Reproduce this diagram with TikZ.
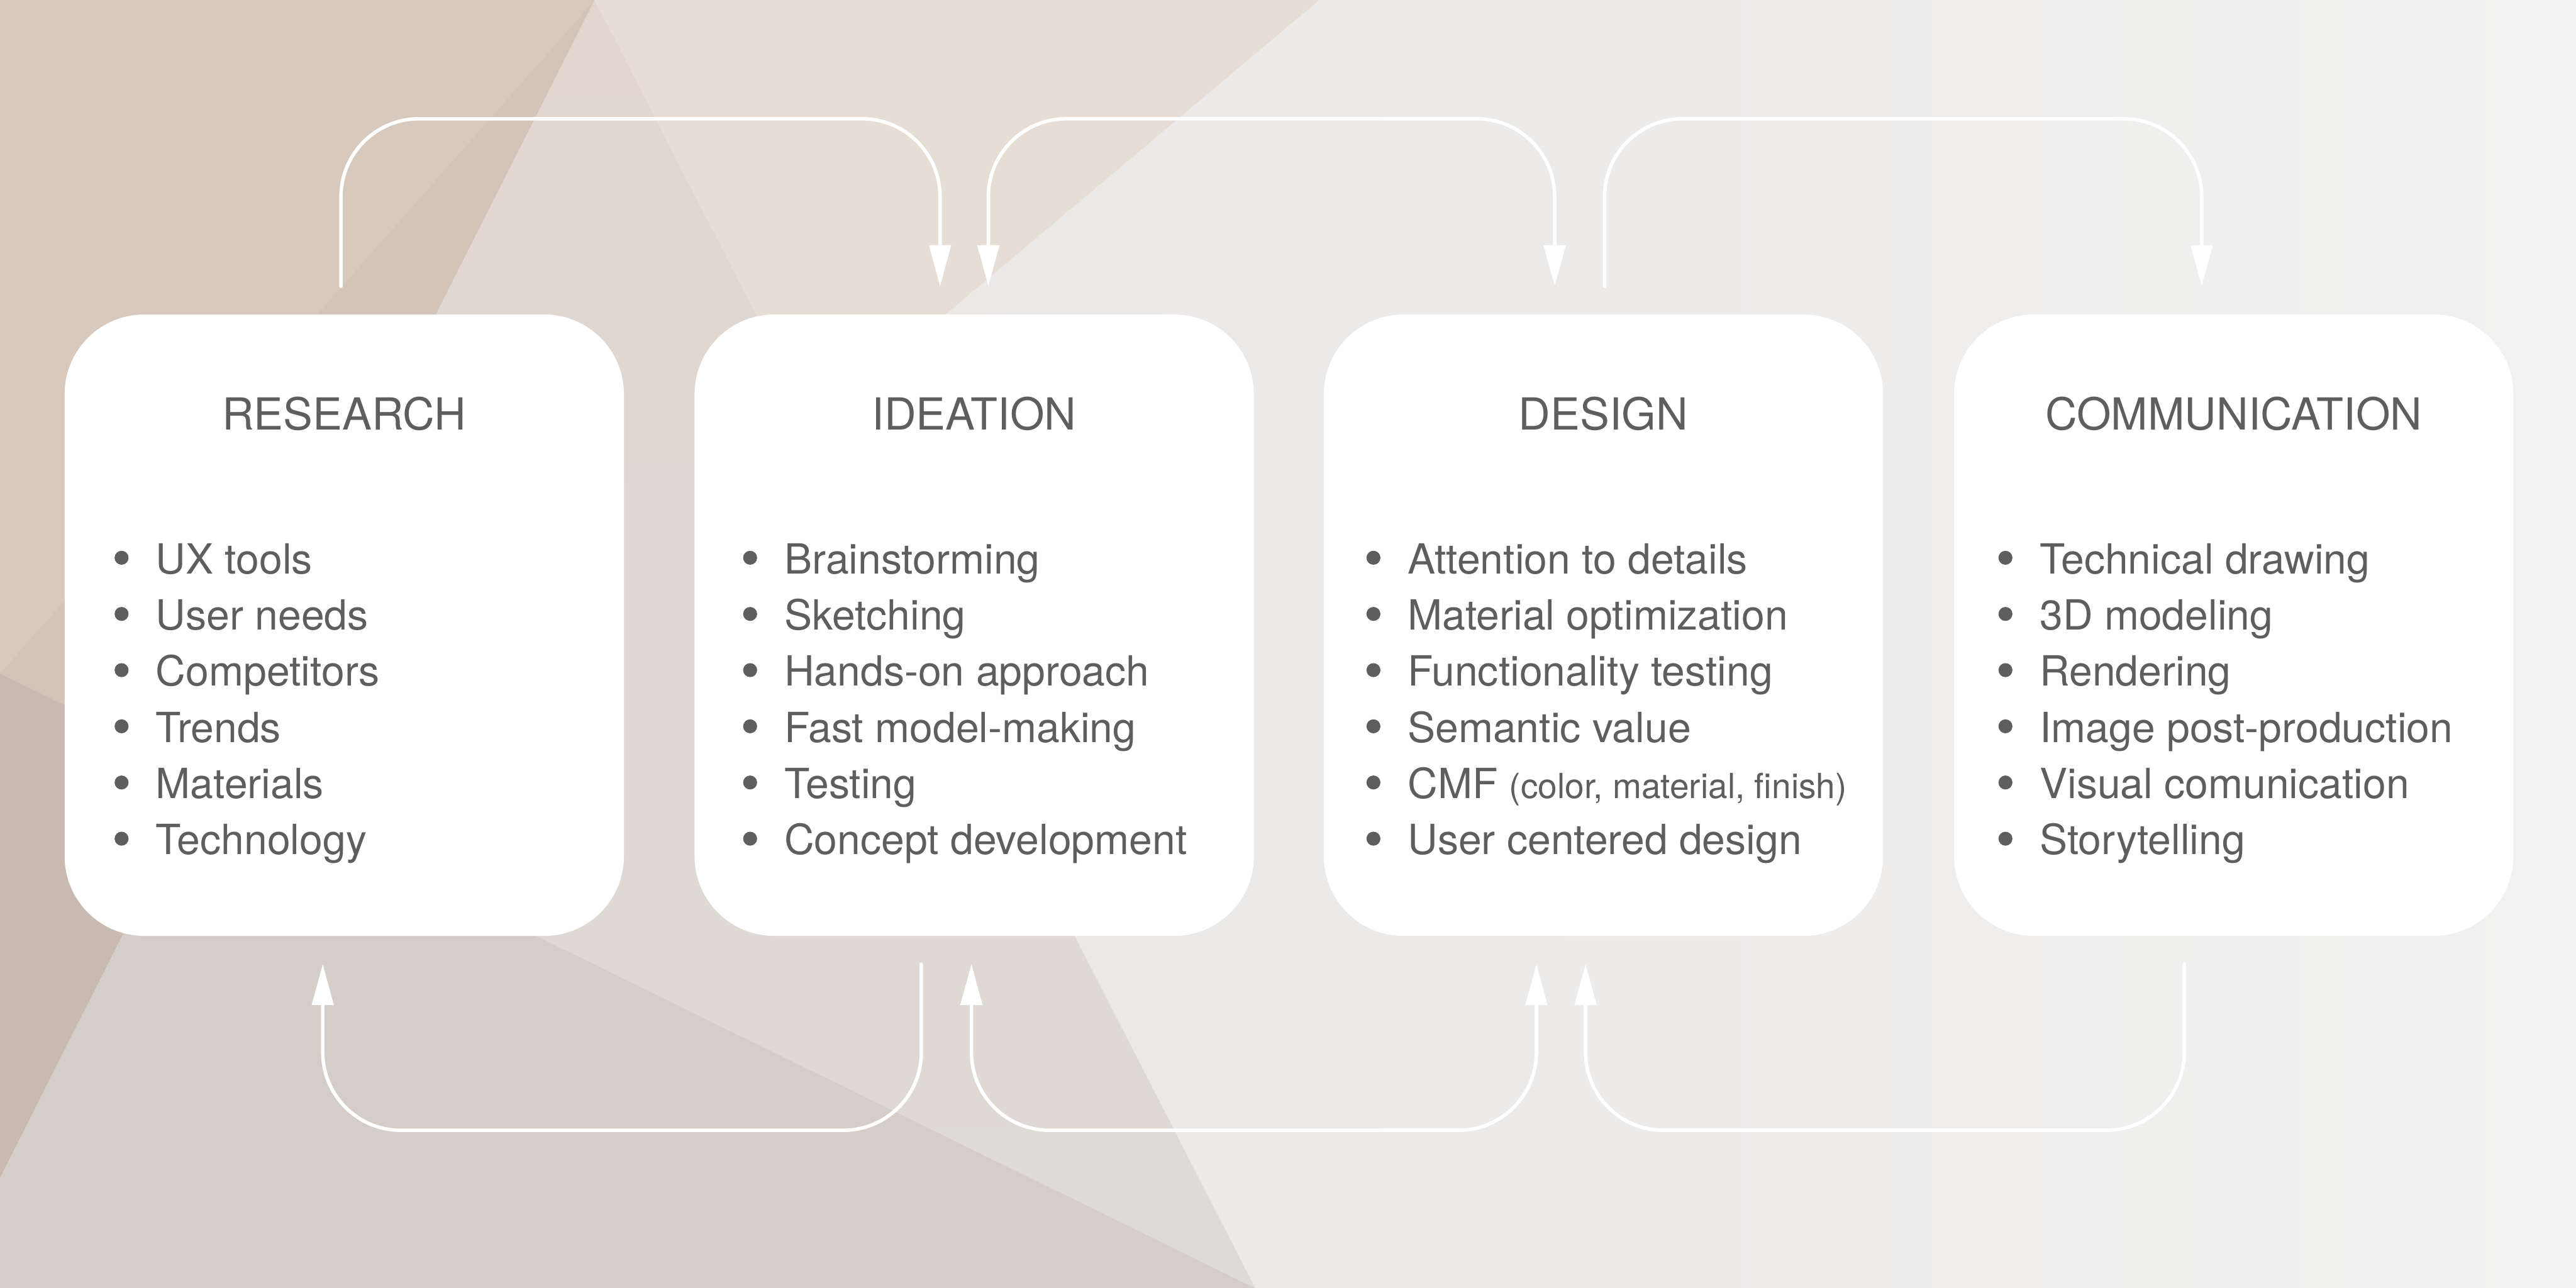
\documentclass[tikz,border=0pt]{standalone}
\usepackage{fontspec}
\setmainfont{TeX Gyre Heros}
\usetikzlibrary{arrows.meta}
\definecolor{tinte}{HTML}{5E5E5E}
\definecolor{bgA}{HTML}{E7E3E0}
\definecolor{bgB}{HTML}{ECEBEA}
\definecolor{bgC}{HTML}{F1F1F1}
\definecolor{tanA}{HTML}{D8C9BE}
\definecolor{tanB}{HTML}{D3C4B9}
\definecolor{tanC}{HTML}{C9BAB1}
\definecolor{greyA}{HTML}{D5CDC8}
\definecolor{roseA}{HTML}{E2D6CF}
\definecolor{roseB}{HTML}{DEDAD6}
\definecolor{sand}{HTML}{E6DDD5}
\newcommand\cmfnote{{\fontsize{12}{14}\selectfont(color, material, finish)}}
\begin{document}
\begin{tikzpicture}[x=.02cm,y=-.02cm,line cap=round,line join=round,
  panel/.style={fill=white,rounded corners=.97cm,minimum width=6.81cm,minimum height=7.566cm,inner sep=0pt},
  head/.style={font=\fontsize{15.3}{18}\selectfont,text=tinte,anchor=base,inner sep=0pt},
  entry/.style={font=\fontsize{14.4}{17}\selectfont,text=tinte,anchor=base west,inner sep=0pt},
  flow/.style={draw=white,line width=1.2pt,rounded corners=.95cm},
  >={Triangle[length=5mm,width=2.6mm]}]
\useasboundingbox (0,0) rectangle (1568,784);
% Hintergrund: heller Verlauf und einige Dreiecksflaechen links.
\shade[left color=bgA,middle color=bgB,right color=bgC] (0,0) rectangle (1568,784);
\fill[tanA] (0,0)--(362,0)--(0,410)--cycle;
\fill[tanB] (362,0)--(124.4,470.7)--(0,410)--cycle;
\fill[tanC] (0,410)--(124.4,470.7)--(0,717)--cycle;
\fill[greyA] (0,717)--(124.4,470.7)--(764,784)--(0,784)--cycle;
\shade[top color=roseA,bottom color=roseB] (362,0)--(124.4,470.7)--(764,784)--cycle;
\fill[sand] (362,0)--(803,0)--(495,259)--cycle;
% Vier Phasen mit Ueberschrift und Stichpunkten.
\foreach \key/\cx/\bx/\heading/\items in {
 research/209.55/74/RESEARCH/{UX tools,User needs,Competitors,Trends,Materials,Technology},
 ideation/593/456.6/IDEATION/{Brainstorming,Sketching,Hands-on approach,Fast model-making,Testing,Concept development},
 design/976/836/DESIGN/{Attention to details,Material optimization,Functionality testing,Semantic value,CMF \cmfnote,User centered design},
 communication/1359.65/1220.7/COMMUNICATION/{Technical drawing,3D modeling,Rendering,Image post-production,Visual comunication,Storytelling}}{
 \node[panel] (\key) at (\cx,380.55) {};
 \node[head] (\key-title) at (\cx,261.8) {\heading};
 \foreach \txt [count=\i] in \items {
  \fill[tinte] (\bx,{339.5+(\i-1)*34.2}) circle[radius=.085cm];
  \node[entry] (\key-\i) at (\bx+20.5,{349.2+(\i-1)*34.2}) {\txt};
 }
}
% Rueckkopplungen oben und unten.
\coordinate (topline) at (0,72.3);
\coordinate (botline) at (0,688);
\foreach \a/\ax/\b/\bx/\tips in {research/-.04/ideation/-.416/->,ideation/.172/design/-.594/<->,design/.014/communication/-.39/->}{
 \coordinate (from) at ([xshift=\ax cm,yshift=3.36mm]\a.north);
 \coordinate (to) at ([xshift=\bx cm,yshift=3.36mm]\b.north);
 \draw[flow,\tips] (from) -- (from |- topline) -- (to |- topline) -- (to);
}
\foreach \a/\ax/\b/\bx/\tips in {research/-.262/ideation/-.644/<-,ideation/-.034/design/-.816/<->,design/-.218/communication/-.602/<-}{
 \coordinate (from) at ([xshift=\ax cm,yshift=-3.36mm]\a.south);
 \coordinate (to) at ([xshift=\bx cm,yshift=-3.36mm]\b.south);
 \draw[flow,\tips] (from) -- (from |- botline) -- (to |- botline) -- (to);
}
\end{tikzpicture}
\end{document}
